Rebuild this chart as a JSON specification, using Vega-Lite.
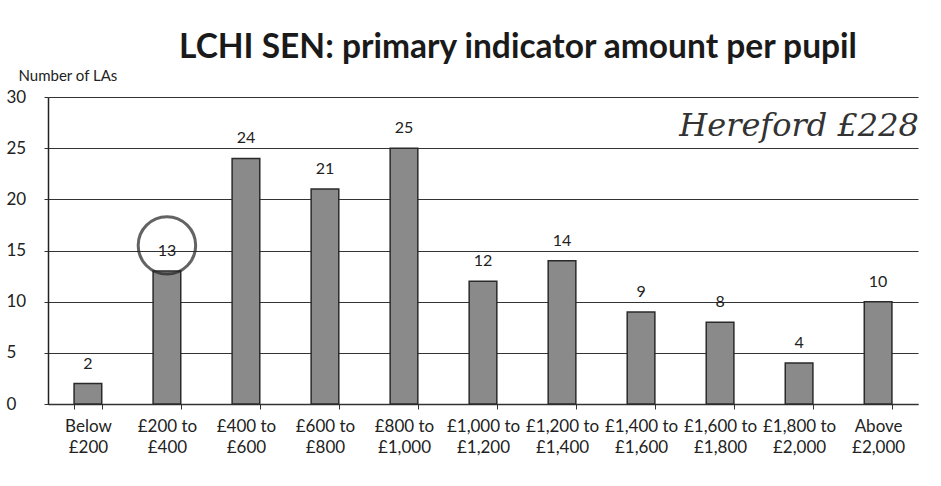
{
  "$schema": "https://vega.github.io/schema/vega-lite/v6.json",
  "width": 870,
  "height": 307,
  "autosize": {"type": "none"},
  "padding": {"left": 48, "top": 97, "right": 23, "bottom": 82},
  "background": "white",
  "title": {
    "text": "LCHI SEN: primary indicator amount per pupil",
    "font": "Lato",
    "fontSize": 33.5,
    "fontWeight": "bold",
    "color": "#1a1a1a",
    "anchor": "middle",
    "dx": 35,
    "offset": 3
  },
  "datasets": {
    "bars": [
      {"band": "Below|£200", "count": 2},
      {"band": "£200 to|£400", "count": 13},
      {"band": "£400 to|£600", "count": 24},
      {"band": "£600 to|£800", "count": 21},
      {"band": "£800 to|£1,000", "count": 25},
      {"band": "£1,000 to|£1,200", "count": 12},
      {"band": "£1,200 to|£1,400", "count": 14},
      {"band": "£1,400 to|£1,600", "count": 9},
      {"band": "£1,600 to|£1,800", "count": 8},
      {"band": "£1,800 to|£2,000", "count": 4},
      {"band": "Above|£2,000", "count": 10}
    ],
    "notes": [
      {"band": "£1,800 to|£2,000", "count": 27.2, "note": "Hereford £228"}
    ],
    "circles": [
      {"band": "£200 to|£400", "count": 15.5}
    ]
  },
  "layer": [
    {
      "data": {"name": "bars"},
      "mark": {"type": "bar", "color": "#8a8a8a", "stroke": "#2a2a2a", "strokeWidth": 1.5},
      "encoding": {
        "x": {
          "field": "band", "type": "nominal", "sort": null,
          "scale": {"paddingInner": 0.65, "paddingOuter": 0.33},
          "axis": {
            "title": null, "labelAngle": 0,
            "labelExpr": "split(datum.label, '|')",
            "labelFont": "Lato", "labelFontSize": 17, "labelColor": "#222",
            "labelPadding": 9, "labelLineHeight": 21,
            "tickBand": "extent", "tickSize": 5, "tickColor": "#333",
            "domainColor": "#333", "domainWidth": 1.5
          }
        },
        "y": {
          "field": "count", "type": "quantitative",
          "scale": {"domain": [0, 30], "nice": false},
          "axis": {
            "values": [0, 5, 10, 15, 20, 25, 30],
            "title": "Number of LAs",
            "titleAngle": 0, "titleAlign": "left", "titleBaseline": "bottom",
            "titleX": -30, "titleY": -14,
            "titleFont": "Lato", "titleFontSize": 15, "titleFontWeight": "normal", "titleColor": "#222",
            "labelFont": "Lato", "labelFontSize": 17, "labelColor": "#222",
            "labelAlign": "left", "labelPadding": 38, "labelBaseline": "middle",
            "tickSize": 4, "tickColor": "#333",
            "domainColor": "#222", "domainWidth": 1.5,
            "grid": true, "gridColor": "#333", "gridWidth": 1.2
          }
        }
      }
    },
    {
      "data": {"name": "bars"},
      "mark": {"type": "text", "dy": -20, "font": "Lato", "fontSize": 16, "color": "#222"},
      "encoding": {
        "x": {"field": "band", "type": "nominal", "sort": null},
        "y": {"field": "count", "type": "quantitative"},
        "text": {"field": "count", "type": "quantitative"}
      }
    },
    {
      "data": {"name": "notes"},
      "mark": {"type": "text", "font": "DejaVu Serif", "fontStyle": "italic", "fontSize": 32, "color": "#333", "baseline": "middle", "align": "center"},
      "encoding": {
        "x": {"field": "band", "type": "nominal", "sort": null},
        "y": {"field": "count", "type": "quantitative"},
        "text": {"field": "note", "type": "nominal"}
      }
    },
    {
      "data": {"name": "circles"},
      "mark": {"type": "point", "shape": "circle", "filled": false, "stroke": "#222", "strokeWidth": 3, "size": 3300},
      "encoding": {
        "x": {"field": "band", "type": "nominal", "sort": null},
        "y": {"field": "count", "type": "quantitative"}
      }
    }
  ],
  "config": {"view": {"stroke": null}}
}
